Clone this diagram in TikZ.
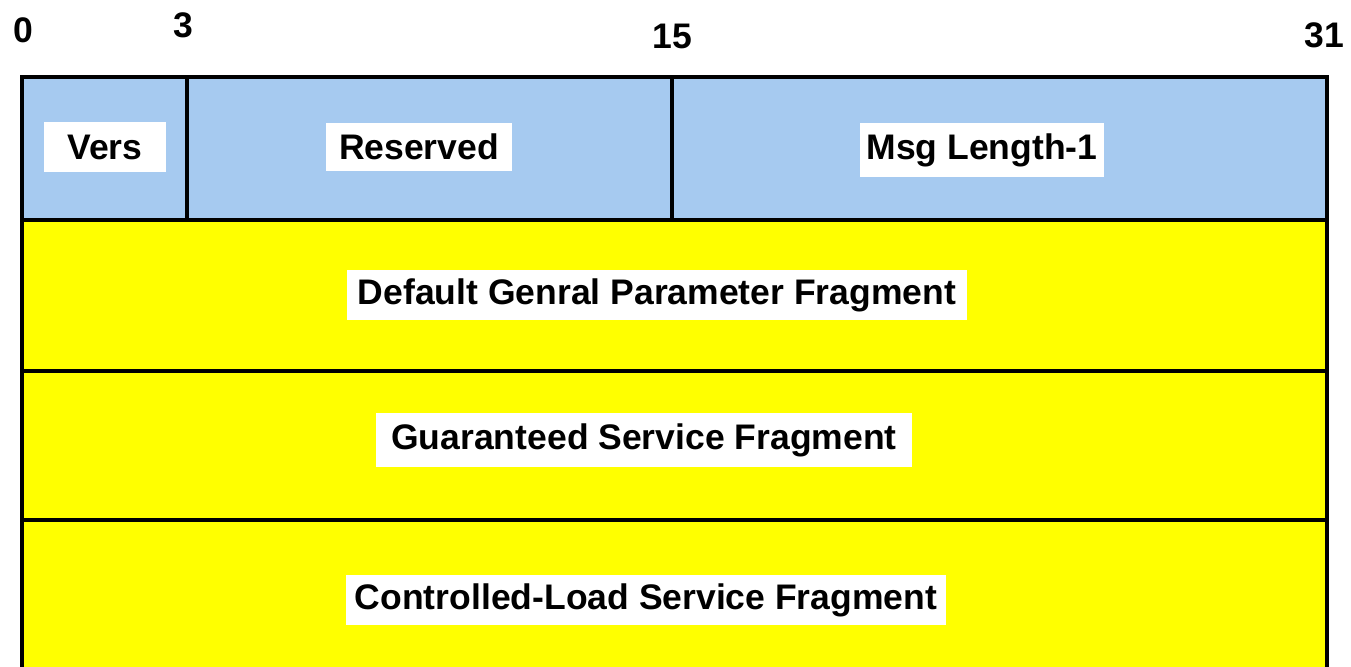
\documentclass[tikz,border=0pt]{standalone}
\usepackage{fontspec}
\setmainfont{Liberation Sans}
\usepackage{tikz}
\usetikzlibrary{positioning}
\definecolor{hdrblue}{RGB}{166,202,240}
\definecolor{fragyellow}{RGB}{255,255,0}
\tikzset{
    tag/.style={fill=white, inner sep=0pt, font=\fontsize{10.1}{12}\selectfont\bfseries},
    bitnum/.style={inner sep=0pt, font=\fontsize{10.1}{12}\selectfont\bfseries},
    field/.style={draw=black, line width=0.9pt}
}

\begin{document}
\begin{tikzpicture}[x=0.01cm, y=-0.01cm]
    \useasboundingbox (0,0) rectangle (1351,667);
    \clip (0,0) rectangle (1351,667);
    \filldraw[field, fill=hdrblue](22,77) rectangle (187,220);
    \filldraw[field, fill=hdrblue](187,77) rectangle (672,220);
    \filldraw[field, fill=hdrblue](672,77) rectangle (1327,220);
    \filldraw[field, fill=fragyellow](22,220) rectangle (1327,371);
    \filldraw[field, fill=fragyellow](22,371) rectangle (1327,520);
    \filldraw[field, fill=fragyellow](22,520) rectangle (1327,720);

    \node (b0) at (23,30) [bitnum]{0};
    \node (b3) at (183,25) [bitnum]{3};
    \node (b15) at (672,36) [bitnum]{15};
    \node (b31) at (1324,35) [bitnum]{31};

    \node (vers) at (105,147) [tag, minimum width=1.22cm, minimum height=0.5cm]{Vers};
    \node (res) at (419,147) [tag, minimum width=1.85cm, minimum height=0.48cm]{Reserved};
    \node (len) at (982,150) [tag, minimum width=2.43cm, minimum height=0.53cm]{Msg Length-1};
    \node (gen) at (657,295) [tag, minimum width=6.2cm, minimum height=0.5cm]{Default Genral Parameter Fragment};
    \node (gs) at (644,440) [tag, minimum width=5.36cm, minimum height=0.53cm]{Guaranteed Service Fragment};
    \node (cl) at (646,600) [tag, minimum width=5.99cm, minimum height=0.5cm]{Controlled-Load Service Fragment};

\end{tikzpicture}
\end{document}
